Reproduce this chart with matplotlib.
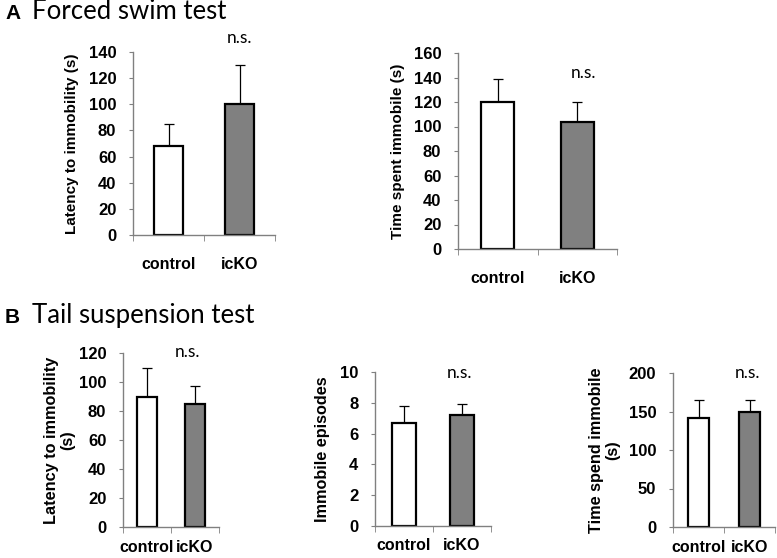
import matplotlib
matplotlib.use("Agg")
import matplotlib.pyplot as plt

# data
categories = ["control", "icKO"]

fst_latency = [68, 100]
fst_latency_err = [17, 30]
fst_immobile = [120, 104]
fst_immobile_err = [19, 16]

tst_latency = [90, 85]
tst_latency_err = [20, 12]
tst_episodes = [6.7, 7.2]
tst_episodes_err = [1.1, 0.7]
tst_immobile = [142, 150]
tst_immobile_err = [23, 15]

W, H = 777, 558
fig = plt.figure(figsize=(W / 100, H / 100), dpi=100)

bar_colors = ["white", "#808080"]
tick_font = "Liberation Sans"
text_font = "Lato"


def px_axes(x0, x1, ytop, ybot):
    return fig.add_axes([x0 / W, 1 - ybot / H, (x1 - x0) / W, (ybot - ytop) / H])


def panel(rect, vals, errs, ymax, ystep, ylabel, ylab_x, ylab_size, ns_xy, xpad):
    ax = px_axes(*rect)
    x = range(len(categories))
    ax.bar(x, vals, width=0.42, color=bar_colors, edgecolor="black", linewidth=1.6, zorder=2)
    ax.errorbar(x, vals, yerr=[[0] * len(errs), errs], fmt="none", ecolor="black",
                elinewidth=0.9, capsize=3.5, capthick=0.9, zorder=1)
    ax.set_xlim(-0.5, 1.5)
    ax.set_ylim(0, ymax)
    yt = [i * ystep for i in range(int(round(ymax / ystep)) + 1)]
    ax.set_yticks(yt)
    ax.set_yticklabels([f"{v:g}" for v in yt], fontfamily=tick_font, fontweight="bold", fontsize=12)
    ax.set_xticks(list(x))
    ax.set_xticklabels(categories, fontfamily=tick_font, fontweight="bold", fontsize=11.5)
    ax.tick_params(axis="x", which="major", length=0, pad=xpad)
    ax.set_xticks([-0.5, 0.5, 1.5], minor=True)
    ax.tick_params(axis="x", which="minor", length=4, color="#808080", direction="out")
    ax.tick_params(axis="y", length=3, color="#808080", pad=9)
    for s in ["top", "right"]:
        ax.spines[s].set_visible(False)
    for s in ["left", "bottom"]:
        ax.spines[s].set_color("#808080")
        ax.spines[s].set_linewidth(1.0)
    ax.text(ylab_x, 0.5, ylabel, transform=ax.transAxes, rotation=90, ha="center", va="center",
            fontfamily=tick_font, fontweight="bold", fontsize=ylab_size, linespacing=1.1)
    ax.annotate("n.s.", xy=ns_xy, xycoords="figure pixels", ha="center", va="center",
                fontfamily=text_font, fontsize=12.5)
    return ax


# A: Forced swim test
panel((133, 275, 52, 235), fst_latency, fst_latency_err, 140, 20,
      "Latency to immobility (s)", -0.43, 11, (239, H - 38), 16)
panel((458, 617, 53, 249), fst_immobile, fst_immobile_err, 160, 20,
      "Time spent immobile (s)", -0.377, 11, (584, H - 73), 16)

# B: Tail suspension test
panel((123, 219, 353, 527), tst_latency, tst_latency_err, 120, 20,
      "Latency to immobility\n(s)", -0.66, 11.7, (188, H - 352), 9)
panel((375, 491, 372, 526), tst_episodes, tst_episodes_err, 10, 2,
      "Immobile episodes", -0.45, 11.7, (459, H - 373), 9)
panel((673, 775, 373, 527), tst_immobile, tst_immobile_err, 200, 50,
      "Time spend immobile\n(s)", -0.67, 11.7, (747, H - 373), 9)

# panel headings
fig.text(5 / W, 1 - 19 / H, "A", fontfamily=tick_font, fontweight="bold", fontsize=15, va="baseline")
fig.text(32 / W, 1 - 19 / H, "Forced swim test", fontfamily=text_font, fontsize=18.5, va="baseline")
fig.text(5 / W, 1 - 323 / H, "B", fontfamily=tick_font, fontweight="bold", fontsize=15, va="baseline")
fig.text(32 / W, 1 - 323 / H, "Tail suspension test", fontfamily=text_font, fontsize=18.5, va="baseline")

fig.savefig("out.png", dpi=100, facecolor="white")
